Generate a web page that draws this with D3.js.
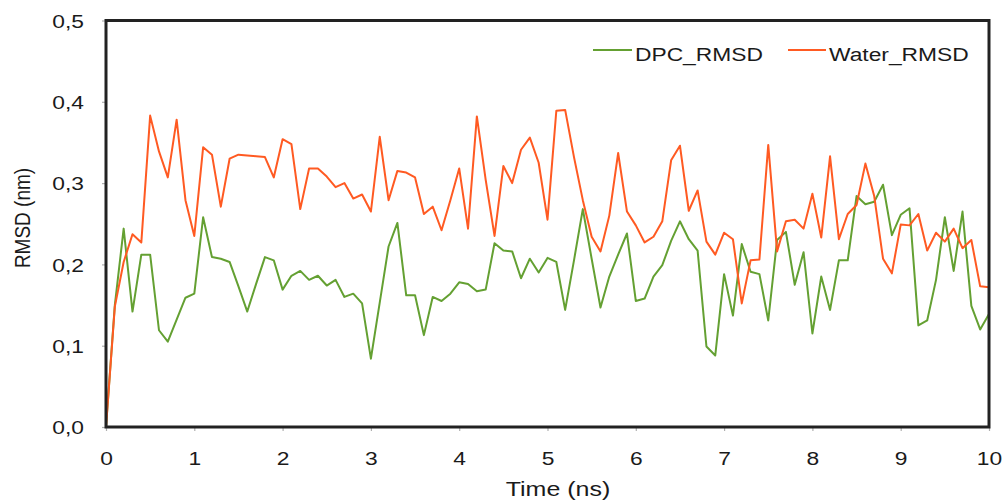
<!DOCTYPE html>
<html>
<head>
<meta charset="utf-8">
<script src="https://cdn.jsdelivr.net/npm/d3@7"></script>
<style>
  html, body { margin: 0; padding: 0; background: #ffffff; }
  svg { display: block; font-family: "Liberation Sans", Arial, sans-serif; }
</style>
</head>
<body>
<svg id="chart" width="1002" height="501"></svg>
<script>
// Simulation time (ns), sampled every 0.1 ns
const timeNs = [
  0.0,0.1,0.2,0.3,0.4,0.5,0.6,0.7,0.8,0.9,
  1.0,1.1,1.2,1.3,1.4,1.5,1.6,1.7,1.8,1.9,
  2.0,2.1,2.2,2.3,2.4,2.5,2.6,2.7,2.8,2.9,
  3.0,3.1,3.2,3.3,3.4,3.5,3.6,3.7,3.8,3.9,
  4.0,4.1,4.2,4.3,4.4,4.5,4.6,4.7,4.8,4.9,
  5.0,5.1,5.2,5.3,5.4,5.5,5.6,5.7,5.8,5.9,
  6.0,6.1,6.2,6.3,6.4,6.5,6.6,6.7,6.8,6.9,
  7.0,7.1,7.2,7.3,7.4,7.5,7.6,7.7,7.8,7.9,
  8.0,8.1,8.2,8.3,8.4,8.5,8.6,8.7,8.8,8.9,
  9.0,9.1,9.2,9.3,9.4,9.5,9.6,9.7,9.8,9.9,
  10.0
];

// RMSD in DPC micelle (nm)
const dpcRmsd = [
  0.000,0.150,0.244,0.142,0.212,0.212,0.119,0.105,0.132,0.159,
  0.164,0.258,0.209,0.207,0.203,0.173,0.142,0.176,0.209,0.205,
  0.169,0.186,0.192,0.181,0.186,0.174,0.181,0.160,0.164,0.152,
  0.084,0.153,0.222,0.251,0.162,0.162,0.113,0.160,0.155,0.164,
  0.178,0.176,0.167,0.169,0.226,0.217,0.216,0.183,0.207,0.190,
  0.208,0.203,0.144,0.205,0.268,0.207,0.147,0.185,0.212,0.238,
  0.155,0.158,0.185,0.199,0.229,0.253,0.231,0.217,0.099,0.088,
  0.188,0.137,0.225,0.191,0.188,0.131,0.230,0.240,0.175,0.215,
  0.115,0.185,0.144,0.205,0.205,0.284,0.274,0.277,0.298,0.236,
  0.261,0.269,0.125,0.131,0.181,0.258,0.192,0.265,0.149,0.120,
  0.139
];

// RMSD in water (nm)
const waterRmsd = [
  0.000,0.148,0.203,0.237,0.227,0.383,0.339,0.307,0.378,0.279,
  0.235,0.344,0.335,0.271,0.330,0.335,0.334,0.333,0.332,0.307,
  0.354,0.348,0.268,0.318,0.318,0.308,0.295,0.300,0.281,0.286,
  0.265,0.357,0.279,0.315,0.313,0.307,0.262,0.271,0.242,0.279,
  0.318,0.244,0.382,0.304,0.235,0.321,0.300,0.341,0.356,0.325,
  0.255,0.389,0.390,0.332,0.279,0.234,0.216,0.260,0.337,0.265,
  0.248,0.227,0.234,0.253,0.328,0.346,0.266,0.291,0.228,0.212,
  0.239,0.231,0.152,0.205,0.206,0.347,0.216,0.253,0.255,0.244,
  0.287,0.233,0.333,0.231,0.262,0.273,0.324,0.284,0.207,0.189,
  0.249,0.248,0.262,0.217,0.239,0.228,0.244,0.220,0.230,0.173,
  0.172
];

const xTicks = [0,1,2,3,4,5,6,7,8,9,10];
const yTicks = [0.0,0.1,0.2,0.3,0.4,0.5];
const seriesNames = ["DPC_RMSD", "Water_RMSD"];
const seriesColors = ["#64a032", "#ff5a22"];

const svg = d3.select("#chart");
const plotLeft = 106, plotRight = 989, plotTop = 20.5, plotBottom = 427;
const fontSize = 19, stretch = 1.2;

const x = d3.scaleLinear().domain([0, 10]).range([plotLeft, plotRight]);
const y = d3.scaleLinear().domain([0, 0.5]).range([plotBottom, plotTop]);
const fmt = d => d3.format(".1f")(d).replace(".", ",");

// Axes (ticks outward, light grey)
const gx = svg.append("g").attr("transform", `translate(0,${plotBottom})`)
  .call(d3.axisBottom(x).tickValues(xTicks).tickSize(4).tickFormat(d3.format("d")));
const gy = svg.append("g").attr("transform", `translate(${plotLeft},0)`)
  .call(d3.axisLeft(y).tickValues(yTicks).tickSize(4).tickFormat(fmt));
[gx, gy].forEach(g => {
  g.select(".domain").remove();
  g.selectAll(".tick line").attr("stroke", "#b0b0b0").attr("stroke-width", 1.2);
  g.selectAll(".tick text").attr("fill", "#1a1a1a").attr("font-size", fontSize)
    .attr("font-family", "Liberation Sans, Arial, sans-serif");
});
gx.selectAll(".tick text").attr("y", 0).attr("dy", null)
  .attr("transform", `translate(0,38) scale(${stretch},1)`);
gy.selectAll(".tick text").attr("x", 0).attr("dy", "0.35em")
  .attr("transform", `translate(-22,0) scale(${stretch},1)`);

// Series lines
const line = d3.line().x((d, i) => x(timeNs[i])).y(d => y(d));
[dpcRmsd, waterRmsd].forEach((vals, k) => {
  svg.append("path").datum(vals)
    .attr("fill", "none")
    .attr("stroke", seriesColors[k])
    .attr("stroke-width", 2)
    .attr("stroke-linejoin", "round")
    .attr("d", line);
});

// Plot frame
svg.append("rect")
  .attr("x", plotLeft).attr("y", plotTop)
  .attr("width", plotRight - plotLeft).attr("height", plotBottom - plotTop)
  .attr("fill", "none").attr("stroke", "#222").attr("stroke-width", 3);

// Legend
const legendItems = [
  { x0: 593, x1: 632, tx: 635 },
  { x0: 788, x1: 826, tx: 829 }
];
legendItems.forEach((it, k) => {
  svg.append("line")
    .attr("x1", it.x0).attr("x2", it.x1).attr("y1", 50).attr("y2", 50)
    .attr("stroke", seriesColors[k]).attr("stroke-width", 2);
  svg.append("text")
    .attr("transform", `translate(${it.tx},61) scale(${stretch},1)`)
    .attr("font-size", fontSize).attr("fill", "#1a1a1a")
    .text(seriesNames[k]);
});

// Axis titles
svg.append("text")
  .attr("transform", `translate(558,496) scale(1.25,1)`)
  .attr("text-anchor", "middle").attr("font-size", 20).attr("fill", "#1a1a1a")
  .text("Time (ns)");
svg.append("text")
  .attr("transform", `translate(30,218) scale(${stretch},1) rotate(-90)`)
  .attr("text-anchor", "middle").attr("font-size", fontSize).attr("fill", "#1a1a1a")
  .text("RMSD (nm)");
</script>
</body>
</html>
